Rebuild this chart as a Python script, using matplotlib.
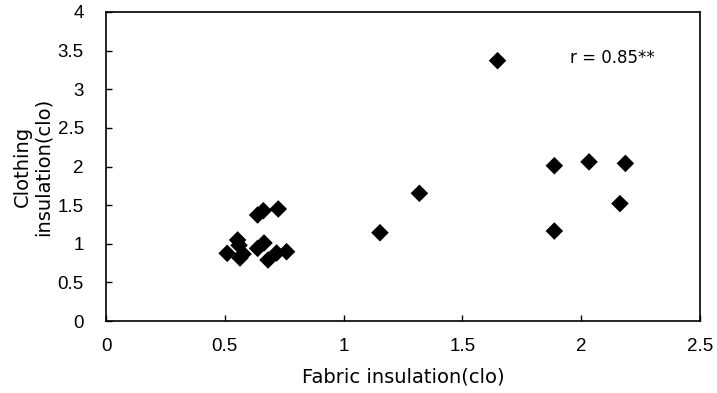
import matplotlib
matplotlib.use("Agg")
import matplotlib.pyplot as plt

fabric = [0.51, 0.554, 0.56, 0.564, 0.577, 0.638, 0.665, 0.682, 0.718, 0.76,
          0.638, 0.662, 0.725, 1.153, 1.319, 1.648, 1.887, 2.033, 2.186, 2.163, 1.887]
clothing = [0.876, 1.049, 0.98, 0.816, 0.867, 0.94, 1.01, 0.79, 0.88, 0.897,
            1.372, 1.428, 1.45, 1.143, 1.653, 3.37, 2.01, 2.06, 2.04, 1.52, 1.165]
xticks = [0, 0.5, 1, 1.5, 2, 2.5]
yticks = [0, 0.5, 1, 1.5, 2, 2.5, 3, 3.5, 4]
annotation = "r = 0.85**"

plt.rcParams['font.family'] = ['DejaVu Sans']

fig = plt.figure(figsize=(7.17, 3.93), dpi=100)
ax = fig.add_axes([106/717, 1-321/393, (700-106)/717, (321-12)/393])
ax.scatter(fabric, clothing, marker='D', s=80, color='black', edgecolors='none', zorder=3)
ax.set_xlim(0, 2.5)
ax.set_ylim(0, 4)
ax.set_xticks(xticks)
ax.set_yticks(yticks)
ax.set_xticklabels([f"{t:g}" for t in xticks], family='Liberation Sans', fontsize=13.5)
ax.set_yticklabels([f"{t:g}" for t in yticks], family='Liberation Sans', fontsize=13.5)
ax.tick_params(direction='in', length=4, width=1, colors='black')
ax.tick_params(axis='x', pad=12)
ax.tick_params(axis='y', pad=16)
for sp in ax.spines.values():
    sp.set_linewidth(1.2)
ax.set_xlabel("Fabric insulation(clo)", fontsize=14, labelpad=9)
ax.set_ylabel("Clothing\ninsulation(clo)", fontsize=14, linespacing=1.1)
ax.yaxis.set_label_coords(-0.09, 0.5)
ax.text(1.953, 3.40, annotation, fontsize=12, va='center', ha='left')
fig.savefig("out.png", dpi=100)
